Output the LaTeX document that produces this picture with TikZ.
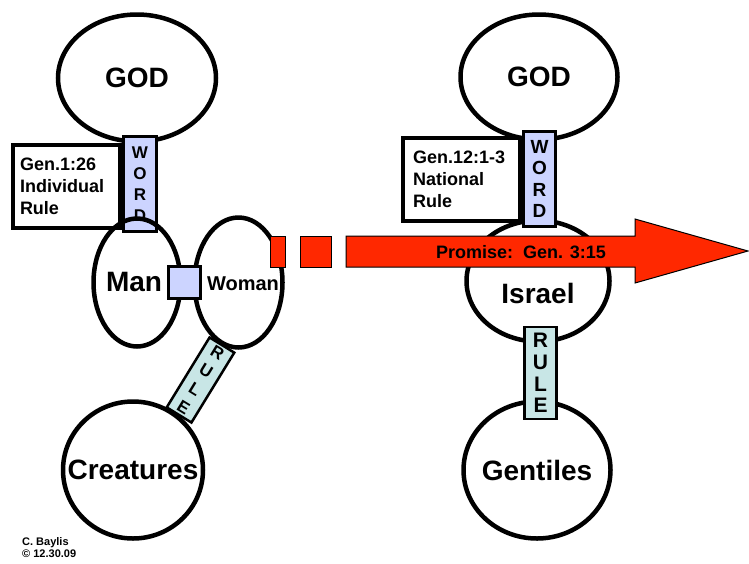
\documentclass[tikz,border=0pt]{standalone}
\usepackage{fontspec}
\setmainfont{Liberation Sans}
\usepackage{tikz}
\usetikzlibrary{shapes.geometric}

\definecolor{wordblue}{RGB}{204,212,255}
\definecolor{rulecyan}{RGB}{200,230,230}
\definecolor{promisered}{RGB}{255,40,0}

\begin{document}
\begin{tikzpicture}[x=1pt, y=-1pt,
  oval/.style={ellipse, draw, line width=4.5, inner sep=0},
  big/.style={font=\fontsize{28}{30}\selectfont\bfseries},
  bar/.style={draw, line width=3, inner sep=0, align=center},
  note/.style={draw, fill=white, line width=4, anchor=north west, align=left, inner ysep=0, font=\fontsize{18}{22}\selectfont\bfseries}]

\useasboundingbox (0,0) rectangle (749,563);

%% Upper ovals
\node [oval, minimum width=158, minimum height=127] (god1) at (137,78) {};
\node [big] (god1text) at (god1) {GOD};
\node [oval, minimum width=157, minimum height=125] (god2) at (539,77) {};
\node [big] (god2text) at (god2) {GOD};

%% Israel goes under its word bar
\node [oval, minimum width=143, minimum height=121] (israel) at (538,281) {};
\node [big] (israeltext) at (538,293) {Israel};

%% Scripture notes
\node [note, minimum width=107, minimum height=83, text width=93, inner xsep=7] (gen1) at (11,143) {Gen.1:26\\Individual\\Rule};
\node [note, minimum width=117, minimum height=83, text width=97, inner xsep=10] (gen2) at (401,136) {Gen.12:1-3\\National\\Rule};

%% Word bars
\node [bar, fill=wordblue, minimum width=33, minimum height=95,
       font=\fontsize{17}{21}\selectfont\bfseries] (word1) at (140,184) {W\\O\\R\\D};
\node [bar, fill=wordblue, minimum width=32, minimum height=95,
       font=\fontsize{19}{21.3}\selectfont\bfseries] (word2) at (539.5,179) {W\\O\\R\\D};

%% Man and woman
\node [oval, minimum width=87, minimum height=128] (man) at (137,282.5) {};
\node [big] (mantext) at (134,282) {Man};
\node [oval, minimum width=88, minimum height=130] (woman) at (238.5,282.5) {};
\node [font=\fontsize{20}{22}\selectfont\bfseries] (womantext) at (243,284) {Woman};
\node [draw, fill=wordblue, line width=3, minimum size=32, inner sep=0] (join) at (184.5,282.5) {};

%% Lower ovals
\node [oval, minimum width=140, minimum height=137] (creatures) at (133,470) {};
\node [big] (creaturestext) at (creatures) {Creatures};
\node [oval, minimum width=147, minimum height=137] (gentiles) at (537,470) {};
\node [big] (gentilestext) at (gentiles) {Gentiles};

%% Rule bars
\node [bar, fill=rulecyan, line width=2.5, minimum width=29, minimum height=82, rotate=-31.5,
       font=\fontsize{17}{21.7}\selectfont\bfseries] (rule1) at (200.5,380) {R\\U\\L\\E};
\node [bar, fill=rulecyan, line width=2.5, minimum width=32, minimum height=92,
       font=\fontsize{21}{21.7}\selectfont\bfseries] (rule2) at (540.5,373) {R\\U\\L\\E};

%% The promise arrow, dashed start
\filldraw [fill=promisered, line width=1] (270,236) rectangle (285,267);
\filldraw [fill=promisered, line width=1] (300,236) rectangle (331,267);
\filldraw [fill=promisered, line width=1] (346,236) -- (635,236) -- (635,219) -- (748,251) -- (635,283) -- (635,267) -- (346,267) -- cycle;
\node [font=\fontsize{18}{20}\selectfont\bfseries] (promise) at (521,252) {Promise:\ \ Gen. 3:15};

%% Credit
\node [anchor=west, align=left, inner sep=0, font=\fontsize{11}{12}\selectfont\bfseries] (credit) at (22,548) {C. Baylis\\© 12.30.09};

\end{tikzpicture}
\end{document}
